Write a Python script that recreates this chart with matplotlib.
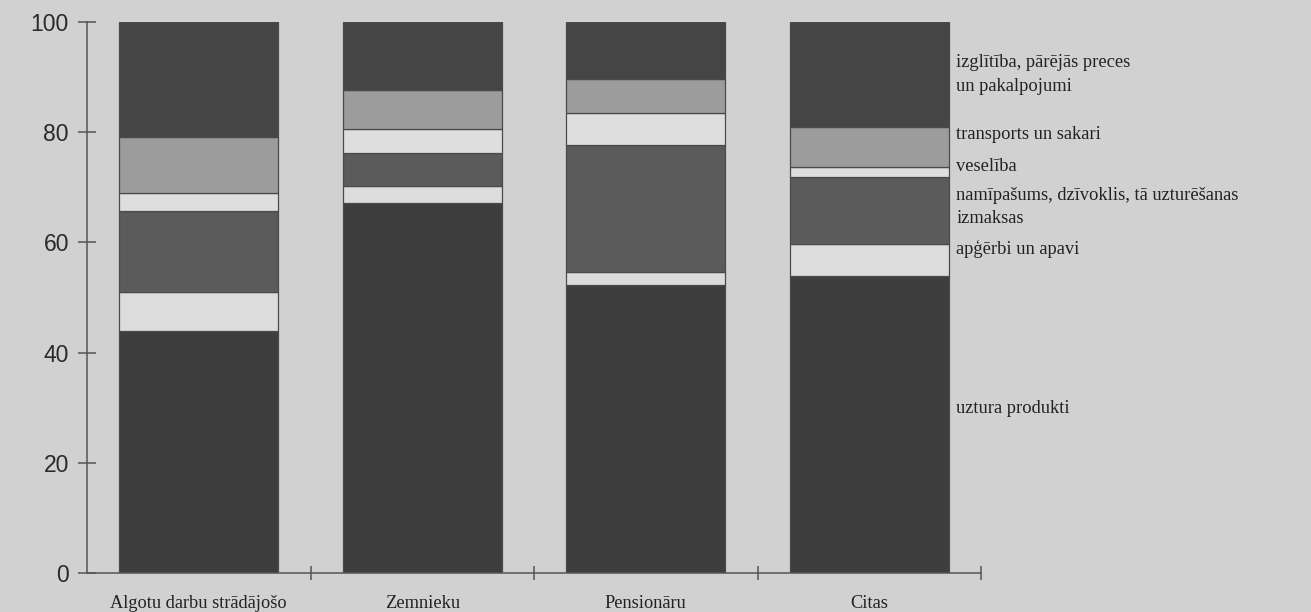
import matplotlib
matplotlib.use("Agg")
import matplotlib.pyplot as plt
import numpy as np

categories = ["Algotu darbu strādājošo", "Zemnieku", "Pensionāru", "Citas"]
series_names = [
    "uztura produkti",
    "apģērbi un apavi",
    "namīpašums, dzīvoklis, tā uzturēšanas\nizmaksas",
    "veselība",
    "transports un sakari",
    "izglītība, pārējās preces\nun pakalpojumi",
]
uztura = [43.9, 67.1, 52.2, 53.9]
apgerbi = [7.1, 3.2, 2.5, 5.8]
namipasums = [14.7, 6.0, 23.0, 12.1]
veseliba = [3.2, 4.3, 5.8, 1.9]
transports = [10.3, 7.0, 6.1, 7.2]
izglitiba = [20.8, 12.4, 10.4, 19.1]
series = [uztura, apgerbi, namipasums, veseliba, transports, izglitiba]
colors = ["#3e3e3e", "#dcdcdc", "#5b5b5b", "#dedede", "#9c9c9c", "#454545"]
label_y = [29.8, 58.8, 66.4, 73.7, 79.5, 90.5]
yticks = [0, 20, 40, 60, 80, 100]

bg = "#d1d1d1"
fig = plt.figure(figsize=(13.11, 6.12), dpi=100, facecolor=bg)
ax = fig.add_axes([87/1311, 39/612, (981-87)/1311, (590-39)/612], facecolor=bg)

x = np.arange(len(categories))
bottom = np.zeros(len(categories))
for vals, c in zip(series, colors):
    ax.bar(x, vals, width=0.713, bottom=bottom, color=c, edgecolor="#4a4a4a",
           linewidth=0.9, zorder=2)
    bottom += np.array(vals)

ax.set_xlim(-0.5, 3.5)
ax.set_ylim(0, 100)
for s in ["top", "right"]:
    ax.spines[s].set_visible(False)
for s in ["left", "bottom"]:
    ax.spines[s].set_color("#555555")
    ax.spines[s].set_linewidth(1.1)

ax.set_yticks(yticks)
ax.set_yticklabels([str(v) for v in yticks], fontsize=16.5, color="#2a2a2a",
                   family="Liberation Sans")
ax.tick_params(axis="y", direction="inout", length=13, width=1.1, color="#555555", pad=6.5)

ax.set_xticks([0.5, 1.5, 2.5, 3.5])
ax.set_xticklabels([])
ax.tick_params(axis="x", direction="inout", length=10, width=1.1, color="#555555")
for xi, name in zip(x, categories):
    ax.text(xi, -5.6, name, ha="center", va="center", fontsize=13.2,
            family="Liberation Serif", color="#222222", clip_on=False)

for name, yv in zip(series_names, label_y):
    ax.text(3.39, yv, name, ha="left", va="center", fontsize=13.3,
            family="Liberation Serif", color="#222222", linespacing=1.5,
            clip_on=False)

fig.savefig("out.png", dpi=100, facecolor=bg)
